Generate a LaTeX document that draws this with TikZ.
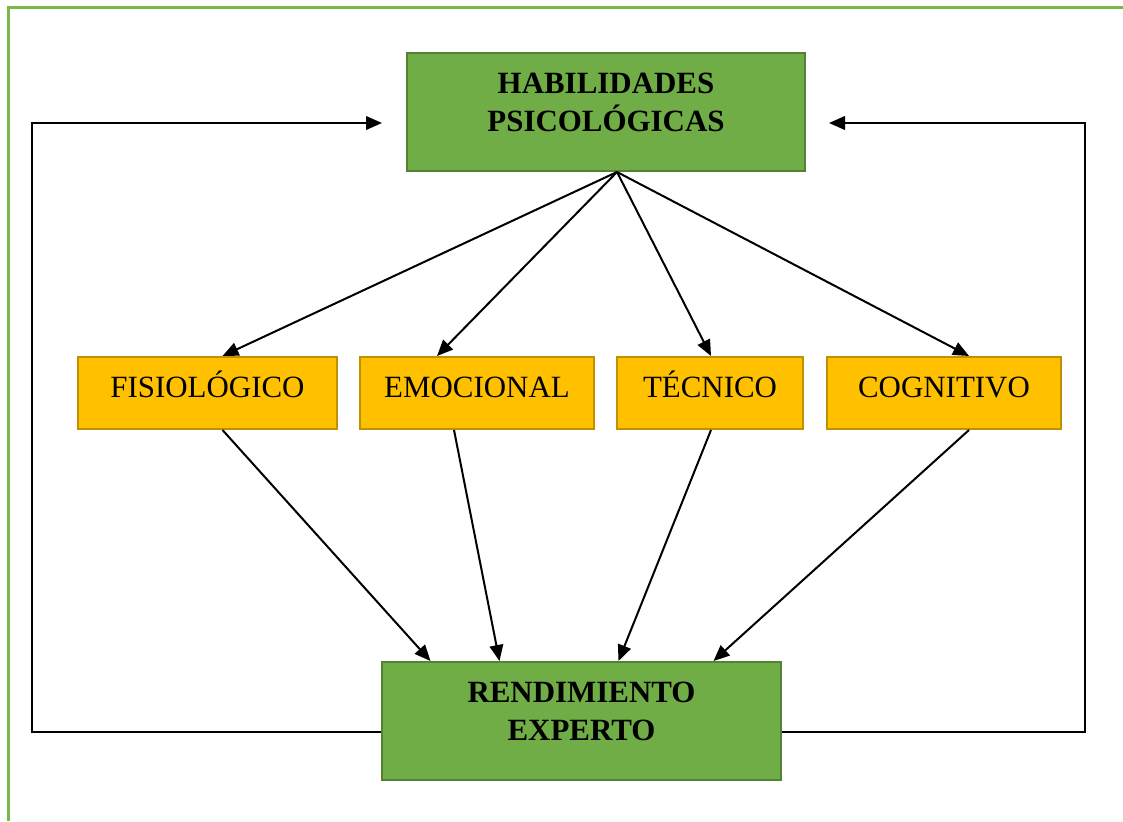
\documentclass[tikz,border=0pt]{standalone}
\usepackage{fontspec}
\setmainfont{Liberation Serif}
\usetikzlibrary{calc,arrows.meta,positioning}
\definecolor{boxgreen}{HTML}{70AD47}
\definecolor{boxgreenedge}{HTML}{548235}
\definecolor{boxyellow}{HTML}{FFC000}
\definecolor{boxyellowedge}{HTML}{BF9000}
\definecolor{framegreen}{HTML}{7AB648}

\begin{document}
\begin{tikzpicture}[%
    x=0.25mm, y=-0.25mm,%
    font=\fontsize{22}{27}\selectfont,%
    mainbox/.style={draw=boxgreenedge, fill=boxgreen, line width=0.5mm, minimum width=99.5mm, minimum height=29.5mm, inner sep=0pt, align=center, font=\fontsize{22}{27}\selectfont\bfseries, text depth=5mm},%
    areabox/.style={draw=boxyellowedge, fill=boxyellow, line width=0.5mm, minimum height=18mm, inner sep=0pt, text height=15pt, text depth=9pt},%
    arr/.style={-{Triangle[length=4mm,width=3.4mm]}, line width=0.5mm},%
  ]
  \useasboundingbox (0,0) rectangle (1123,821);%

  % Coordinates
  \coordinate (F0) at (8,821);%
  \coordinate (F1) at (8,7);%
  \coordinate (F2) at (1123,7);%
  \coordinate (lft) at (32,123);%
  \coordinate (rgt) at (1085,123);%

  % Nodes
  \node[mainbox] (hab) at (606,112) {HABILIDADES\\PSICOLÓGICAS};%
  \node[mainbox, minimum width=99.75mm] (rend) at (581.5,721) {RENDIMIENTO\\EXPERTO};%
  \node[areabox, minimum width=64.75mm] (fis) at (207.5,393) {FISIOLÓGICO};%
  \node[areabox, minimum width=58.5mm] (emo) at (477,393) {EMOCIONAL};%
  \node[areabox, minimum width=46.5mm] (tec) at (710,393) {TÉCNICO};%
  \node[areabox, minimum width=58.5mm] (cog) at (944,393) {COGNITIVO};%
  \coordinate (hub) at ($(hab.south)+(11,0)$);%

  % Frame
  \draw[framegreen, line width=0.75mm] (F0) -- (F1) -- (F2);%

  % Lines
  \draw[arr] (hub) -- ($(fis.north)+(15,0)$);%
  \draw[arr] (hub) -- ($(emo.north)+(-40,0)$);%
  \draw[arr] (hub) -- ($(tec.north)+(1,0)$);%
  \draw[arr] (hub) -- ($(cog.north)+(25,0)$);%
  \draw[arr] ($(fis.south)+(15,0)$) -- ($(rend.north)+(-151,0)$);%
  \draw[arr] ($(emo.south)+(-23,0)$) -- ($(rend.north)+(-82,0)$);%
  \draw[arr] ($(tec.south)+(1,0)$) -- ($(rend.north)+(37,0)$);%
  \draw[arr] ($(cog.south)+(25,0)$) -- ($(rend.north)+(132,0)$);%

  % Feedback
  \draw[arr] ($(rend.west)+(0,11)$) -| (lft) -- ($(hab.west)+(-24,11)$);%
  \draw[arr] ($(rend.east)+(0,11)$) -| (rgt) -- ($(hab.east)+(23,11)$);%
\end{tikzpicture}
\end{document}
